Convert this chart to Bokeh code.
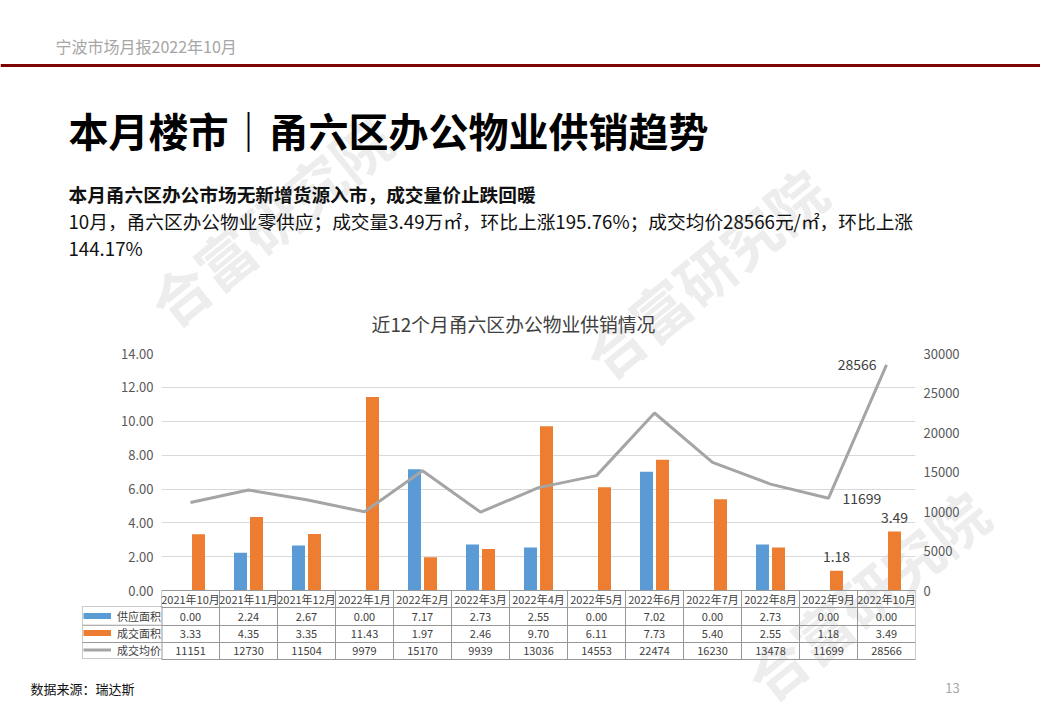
from bokeh.plotting import figure
from bokeh.models import (Range1d, FactorRange, LinearAxis, FixedTicker, NumeralTickFormatter,
                          ColumnDataSource, Legend, LegendItem)
from bokeh.transform import dodge
from bokeh.layouts import column
from bokeh.core.properties import value
from bokeh.embed import file_html
from bokeh.resources import INLINE

# ---------------- data ----------------
months = ["2021年10月", "2021年11月", "2021年12月", "2022年1月", "2022年2月", "2022年3月",
          "2022年4月", "2022年5月", "2022年6月", "2022年7月", "2022年8月", "2022年9月", "2022年10月"]
supply = [0.00, 2.24, 2.67, 0.00, 7.17, 2.73, 2.55, 0.00, 7.02, 0.00, 2.73, 0.00, 0.00]
sale = [3.33, 4.35, 3.35, 11.43, 1.97, 2.46, 9.70, 6.11, 7.73, 5.40, 2.55, 1.18, 3.49]
price = [11151, 12730, 11504, 9979, 15170, 9939, 13036, 14553, 22474, 16230, 13478, 11699, 28566]
series_names = ["供应面积", "成交面积", "成交均价"]
left_ticks = [0, 2, 4, 6, 8, 10, 12, 14]
right_ticks = [0, 5000, 10000, 15000, 20000, 25000, 30000]

header_text = "宁波市场月报2022年10月"
page_title = "本月楼市｜甬六区办公物业供销趋势"
subtitle = "本月甬六区办公市场无新增货源入市，成交量价止跌回暖"
body1 = "10月，甬六区办公物业零供应；成交量3.49万㎡，环比上涨195.76%；成交均价28566元/㎡，环比上涨"
body2 = "144.17%"
chart_title = "近12个月甬六区办公物业供销情况"
source_note = "数据来源：瑞达斯"
page_no = "13"
watermark = "合富研究院"

# ---------------- styles / geometry ----------------
FONT = "Noto Sans CJK SC"
BLUE = "#5b9bd5"
ORANGE = "#ed7d31"
GRAY = "#a5a5a5"
TXT = "#404040"
BORDER = "#989898"
FRAME_L, FRAME_R, FRAME_T, FRAME_B = 161, 915, 353, 660
Y_LO, Y_HI = -4.12, 14
ROW = 1.02  # table row height in left-axis units
PX = (FRAME_B - FRAME_T) / (Y_HI - Y_LO)
ZERO_PX = FRAME_T + Y_HI * PX

# ---------------- page background (texts, rule, watermarks, table legend) ----------------
bg = figure(width=1040, height=720, x_range=Range1d(0, 1040), y_range=Range1d(720, 0),
            x_axis_type=None, y_axis_type=None, output_backend="svg", toolbar_location=None,
            min_border=0, frame_align=False)
bg.outline_line_color = None
bg.grid.visible = False

bg.text(x=[269, 704, 866], y=[220, 272, 594], text=[watermark] * 3, angle=0.68,
        text_font=value(FONT), text_font_size="58px", text_font_style="bold",
        text_color="#ededed", text_align="center", text_baseline="middle")

def page_text(x, y, txt, size, color, bold=False, align="left"):
    bg.text(x=[x], y=[y], text=[txt], text_font=value(FONT), text_font_size=f"{size}px",
            text_color=color, text_font_style="bold" if bold else "normal",
            text_align=align, text_baseline="middle")

page_text(55, 45, header_text, 16, "#a6a6a6")
bg.hspan(y=[64.5], line_color="#7f0000", line_width=3)
page_text(68, 129, page_title, 40, "#000000", bold=True)
page_text(68, 193, subtitle, 18.7, "#111111", bold=True)
page_text(68, 220, body1, 18.7, "#111111")
page_text(68, 247, body2, 18.7, "#111111")
page_text(513, 323, chart_title, 18.8, "#404040", align="center")
page_text(30, 688, source_note, 13, "#111111")
page_text(952, 687, page_no, 13, "#a6a6a6", align="center")

# legend column of the data table (row headers)
LEG_L = 82
row_px = [ZERO_PX + k * ROW * PX for k in (1, 2, 3, 4)]
bg.segment(x0=[LEG_L] * 2, y0=row_px[1:3], x1=[FRAME_L] * 2, y1=row_px[1:3],
           line_color=BORDER, line_width=1)
nan = float("nan")
sw_supply = bg.line(x=[0], y=[nan], line_color=BLUE, line_width=6)
sw_sale = bg.line(x=[0], y=[nan], line_color=ORANGE, line_width=6)
sw_price = bg.line(x=[0], y=[nan], line_color=GRAY, line_width=3)
legend = Legend(items=[LegendItem(label=series_names[0], renderers=[sw_supply]),
                       LegendItem(label=series_names[1], renderers=[sw_sale]),
                       LegendItem(label=series_names[2], renderers=[sw_price])],
                location=(LEG_L, 720 - round(row_px[3])), orientation="vertical",
                padding=0, spacing=0, margin=0,
                glyph_width=28, glyph_height=17, label_height=17, label_width=45,
                label_standoff=6, label_text_font=FONT, label_text_font_size="11px",
                label_text_color=TXT, border_line_color=BORDER, border_line_width=1,
                background_fill_alpha=0.0)
bg.add_layout(legend)

# ---------------- chart (overlaid, transparent) ----------------
p = figure(width=1040, height=720, x_range=FactorRange(factors=months),
           y_range=Range1d(Y_LO, Y_HI), x_axis_location=None,
           output_backend="svg", toolbar_location=None, frame_align=False,
           min_border_left=FRAME_L, min_border_right=1040 - FRAME_R,
           min_border_top=FRAME_T, min_border_bottom=720 - FRAME_B,
           styles={"position": "absolute", "left": "0px", "top": "0px"})
p.background_fill_alpha = 0
p.border_fill_alpha = 0
p.extra_y_ranges = {"price": Range1d(Y_LO * 30000 / 14, 30000)}
p.outline_line_color = None
p.xgrid.visible = False
p.ygrid.ticker = FixedTicker(ticks=left_ticks)
p.ygrid.grid_line_color = "#d9d9d9"

p.yaxis.ticker = FixedTicker(ticks=left_ticks)
p.yaxis.formatter = NumeralTickFormatter(format="0.00")
raxis = LinearAxis(y_range_name="price", ticker=FixedTicker(ticks=right_ticks),
                   formatter=NumeralTickFormatter(format="0"))
p.add_layout(raxis, "right")
for ax in (p.yaxis[0], raxis):
    ax.axis_line_color = None
    ax.major_tick_line_color = None
    ax.minor_tick_line_color = None
    ax.major_tick_in = 0
    ax.major_tick_out = 0
    ax.minor_tick_in = 0
    ax.minor_tick_out = 0
    ax.major_label_standoff = 8
    ax.major_label_text_font = FONT
    ax.major_label_text_font_size = "13px"
    ax.major_label_text_color = "#595959"

src = ColumnDataSource(dict(
    month=months, supply=supply, sale=sale, price=price,
    supply_txt=[f"{v:.2f}" for v in supply],
    sale_txt=[f"{v:.2f}" for v in sale],
    price_txt=[str(v) for v in price],
))

p.vbar(x=dodge("month", -0.138, range=p.x_range), top="supply", width=0.224, source=src,
       fill_color=BLUE, line_color=None)
p.vbar(x=dodge("month", 0.138, range=p.x_range), top="sale", width=0.224, source=src,
       fill_color=ORANGE, line_color=None)
p.line(x="month", y="price", y_range_name="price", source=src,
       line_color=GRAY, line_width=3)

# data labels for the last two months
lbl = ColumnDataSource(dict(month=months[-2:], sale=sale[-2:], price=price[-2:],
                            sale_txt=[f"{v:.2f}" for v in sale[-2:]],
                            price_txt=[str(v) for v in price[-2:]],
                            align=["left", "right"], xoff=[14, -10]))
p.text(x=dodge("month", 0.138, range=p.x_range), y="sale", text="sale_txt", source=lbl,
       text_font=value(FONT), text_font_size="14px", text_color=TXT,
       text_align="center", text_baseline="bottom", y_offset=-9)
p.text(x="month", y="price", y_range_name="price", text="price_txt", source=lbl,
       text_font=value(FONT), text_font_size="14px", text_color=TXT,
       text_align="align", text_baseline="middle", x_offset="xoff")

# data table below the plot area
p.hspan(y=[0, -ROW, -2 * ROW, -3 * ROW, -4 * ROW], line_color=BORDER, line_width=1)
p.segment(x0=dodge("month", -0.5, range=p.x_range), y0=0,
          x1=dodge("month", -0.5, range=p.x_range), y1=-4 * ROW, source=src,
          line_color=BORDER, line_width=1)
p.segment(x0=dodge("month", 0.5, range=p.x_range), y0=0,
          x1=dodge("month", 0.5, range=p.x_range), y1=-4 * ROW, source=lbl,
          line_color=BORDER, line_width=1)
for col, k in [("month", 0), ("supply_txt", 1), ("sale_txt", 2), ("price_txt", 3)]:
    p.text(x="month", y=-(k + 0.5) * ROW, text=col, source=src,
           text_font=value(FONT), text_font_size="11px", text_color=TXT,
           text_align="center", text_baseline="middle")

root = column(bg, p, spacing=0)
open("out.html", "w").write(file_html(root, INLINE))
